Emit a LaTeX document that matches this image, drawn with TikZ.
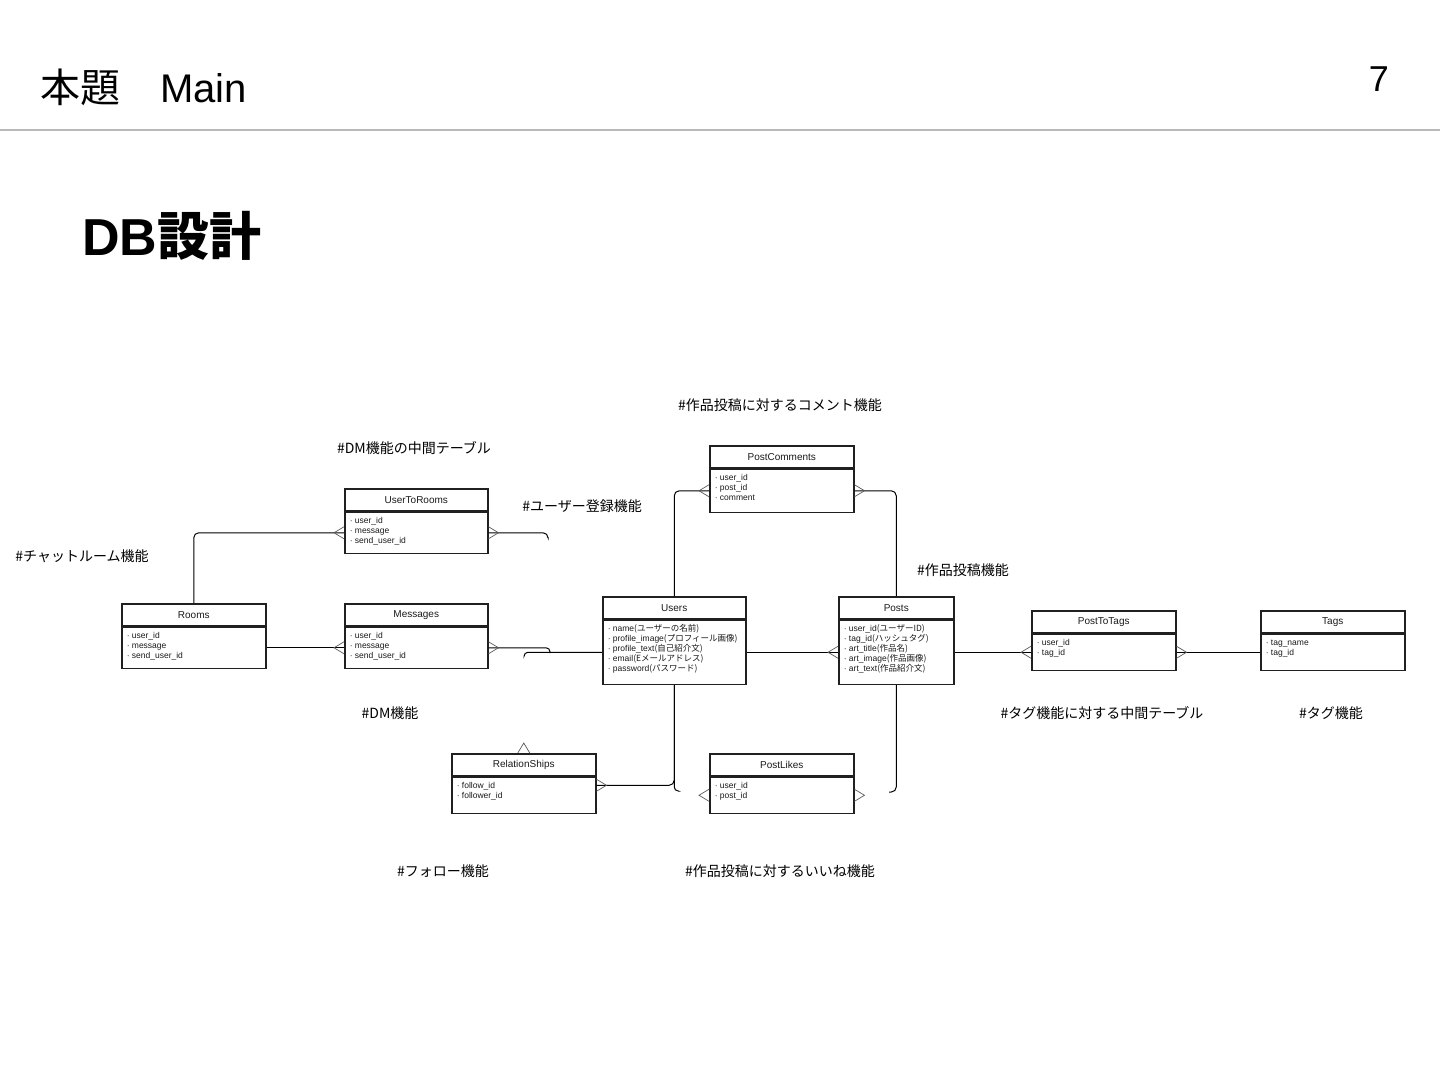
\documentclass[tikz,border=0pt]{standalone}
\usepackage{fontspec}
\setmainfont{Liberation Sans}
\newfontfamily\jp{Noto Sans CJK JP}
\usetikzlibrary{positioning}

\begin{document}
\begin{tikzpicture}[x=1pt, y=-1pt]
\useasboundingbox (0,0) rectangle (1440,1080);

% Styles for tables, connectors and notes
\tikzset{
  tblhead/.style={draw=gray!25!black, line width=1.5pt, minimum height=22pt,
    inner sep=0pt, font=\fontsize{10}{12}\selectfont, text=gray!20!black},
  tblbody/.style={draw=gray!25!black, line width=1.5pt, inner sep=0pt,
    font=\fontsize{8.5}{10}\selectfont, text=gray!20!black},
  conn/.style={line width=1pt},
  crowline/.style={gray!70!black, line width=0.7pt},
  note/.style={font=\jp\fontsize{14}{16}\selectfont},
  crow/.pic={\draw[crowline] (0,6) -- (10,0) -- (0,-6);}
}

% Table: name, x, y, width, body height, title, fields
\def\tbl#1#2#3#4#5#6#7{%
  \node[tblhead, minimum width=#4pt, anchor=north west] (#1) at (#2,#3) {#6};
  \node[tblbody, minimum width=#4pt, below=0pt of #1] (#1b)
    {\parbox[c][#5pt][t]{\dimexpr#4pt-10pt\relax}{\rule{0pt}{11pt}#7}};
}

% Page header
\node[anchor=base west, inner sep=0pt] (maintitle) at (40,102)
  {\fontsize{40}{48}\selectfont{\jp 本題　}Main};
\node[anchor=base east, inner sep=0pt] (pagenum) at (1389,91)
  {\fontsize{36}{40}\selectfont 7};
\draw[gray!55, line width=2pt] (0,130) -- (1440,130);
\node[anchor=base west, inner sep=0pt] (dbtitle) at (82,255)
  {\fontsize{52}{60}\selectfont\bfseries DB{\jp 設計}};

% Tables
\tbl{utr}{344}{488}{143}{41}{UserToRooms}{· user\_id\\· message\\· send\_user\_id}
\tbl{rooms}{121}{603}{144}{41}{Rooms}{· user\_id\\· message\\· send\_user\_id}
\tbl{msg}{344}{603}{143}{41}{Messages}{· user\_id\\· message\\· send\_user\_id}
\tbl{users}{602}{596}{143}{64}{Users}{· name{\jp(ユーザーの名前)}\\· profile\_image{\jp(プロフィール画像)}\\· profile\_text{\jp(自己紹介文)}\\· email{\jp(Eメールアドレス)}\\· password{\jp(パスワード)}}
\tbl{posts}{838}{596}{115}{64}{Posts}{· user\_id{\jp(ユーザーID)}\\· tag\_id{\jp(ハッシュタグ)}\\· art\_title{\jp(作品名)}\\· art\_image{\jp(作品画像)}\\· art\_text{\jp(作品紹介文)}}
\tbl{pcom}{709}{445}{144}{43}{PostComments}{· user\_id\\· post\_id\\· comment}
\tbl{ptt}{1031}{610}{144}{36}{PostToTags}{· user\_id\\· tag\_id}
\tbl{tags}{1260}{610}{144}{36}{Tags}{· tag\_name\\· tag\_id}
\tbl{rel}{451}{753}{144}{36}{RelationShips}{· follow\_id\\· follower\_id}
\tbl{plike}{709}{753}{144}{36}{PostLikes}{· user\_id\\· post\_id}

% Loose ends
\coordinate (utrend) at (548,537);
\coordinate (msgend) at (550,653);
\coordinate (usersend) at (524,656);
\coordinate (likesend1) at (678,791);
\coordinate (likesend2) at (889,792);

% Connectors
\draw[conn, rounded corners=5pt] (utrb.west) -| (rooms.north);
\draw[conn, rounded corners=5pt] (utrb.east) -| (utrend);
\draw[conn] (roomsb.east) -- (msgb.west);
\draw[conn, rounded corners=4pt] (msgb.east) -| (msgend);
\draw[conn, rounded corners=4pt] (usersb.west) -| (usersend);
\draw[conn] (usersb.east) -- (postsb.west);
\draw[conn, rounded corners=5pt] (users.north) |- (pcomb.west);
\draw[conn, rounded corners=5pt] (pcomb.east) -| (posts.north);
\draw[conn] (postsb.east) -- (pttb.west);
\draw[conn] (pttb.east) -- (tagsb.west);
\draw[conn, rounded corners=5pt] (usersb.south) |- ([yshift=10pt]relb.east);
\draw[conn, rounded corners=4pt] (usersb.south) |- (likesend1);
\draw[conn, rounded corners=5pt] (postsb.south) |- (likesend2);

% Crow's feet
\pic[rotate=180] at (utrb.west) {crow};
\pic at (utrb.east) {crow};
\pic[rotate=180] at (msgb.west) {crow};
\pic at (msgb.east) {crow};
\pic[rotate=180] at (postsb.west) {crow};
\pic[rotate=180] at (pcomb.west) {crow};
\pic at (pcomb.east) {crow};
\pic[rotate=180] at (pttb.west) {crow};
\pic at (pttb.east) {crow};
\pic at ([yshift=10pt]relb.east) {crow};
\pic[rotate=90] at (rel.north) {crow};
\pic[rotate=180] at (plikeb.west) {crow};
\pic at (plikeb.east) {crow};

% Notes
\node[note] (ncomment) at (780,405) {\#作品投稿に対するコメント機能};
\node[note] (ndmmid) at (414,448) {\#DM機能の中間テーブル};
\node[note] (nuser) at (582,506) {\#ユーザー登録機能};
\node[note] (nchat) at (82,556) {\#チャットルーム機能};
\node[note] (npost) at (963,570) {\#作品投稿機能};
\node[note] (ndm) at (390,713) {\#DM機能};
\node[note] (ntagmid) at (1102,713) {\#タグ機能に対する中間テーブル};
\node[note] (ntag) at (1331,713) {\#タグ機能};
\node[note] (nfollow) at (443,871) {\#フォロー機能};
\node[note] (nlike) at (780,871) {\#作品投稿に対するいいね機能};

\end{tikzpicture}
\end{document}
